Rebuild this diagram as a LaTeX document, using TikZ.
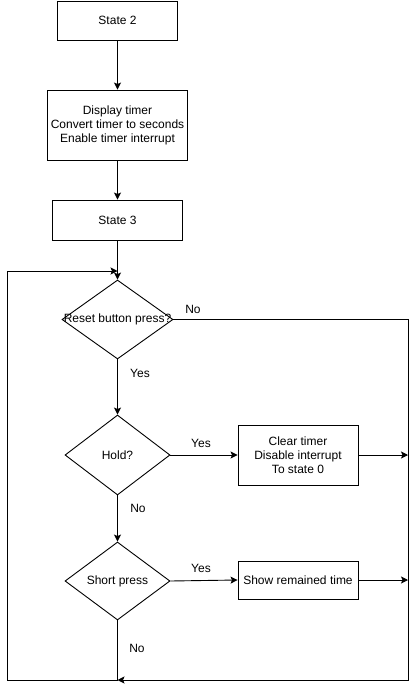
\documentclass[tikz,border=0pt]{standalone}
\usepackage{fontspec}
\setmainfont{Liberation Sans}
\usetikzlibrary{shapes.geometric,arrows.meta}
\begin{document}
\begin{tikzpicture}[x=1pt,y=-1pt,
  every node/.style={font=\fontsize{12}{14}\selectfont},
  box/.style={draw,line width=0.9pt,rectangle,inner sep=0pt,align=center},
  decision/.style={draw,line width=0.9pt,diamond,inner sep=0pt},
  flow/.style={line width=0.9pt,-{Stealth[length=7pt,width=7pt,inset=1.5pt]}},
  wire/.style={line width=0.9pt},
  tag/.style={inner sep=0pt}]
\useasboundingbox (0,0) rectangle (417,690);

% main column
\node[box,minimum width=120,minimum height=39] (s2) at (117.5,20.5) {State 2};
\node[box,minimum width=140,minimum height=70] (disp) at (117.5,125)
  {Display timer\\Convert timer to seconds\\Enable timer interrupt};
\node[box,minimum width=130,minimum height=40] (s3) at (117.5,220) {State 3};
\node[decision,minimum width=111,minimum height=79,
  label={[tag]center:Reset button press?}] (reset) at (117.5,319.5) {};
\node[decision,minimum width=105,minimum height=80,
  label={[tag]center:Hold?}] (hold) at (117.5,455) {};
\node[decision,minimum width=105,minimum height=78,
  label={[tag]center:Short press}] (short) at (117.5,581) {};

% side actions
\node[box,minimum width=120,minimum height=60] (clear) at (298,455)
  {Clear timer\\Disable interrupt\\To state 0};
\node[box,minimum width=120,minimum height=38] (show) at (298,580)
  {Show remained time};

% routing points of the loop
\coordinate (rtop) at (408,319.5);
\coordinate (rhold) at (408,455);
\coordinate (rshow) at (408,580);
\coordinate (rbot) at (408,680);
\coordinate (mbot) at (117.5,680);
\coordinate (lbot) at (7,680);
\coordinate (ltop) at (7,271);
\coordinate (entry) at (117.5,271);

% connectors
\draw[flow] (s2) -- (disp);
\draw[flow] (disp) -- (s3);
\draw[flow] (s3) -- (reset.north);
\draw[flow] (reset.south) -- (hold.north);
\draw[flow] (hold.south) -- (short.north);
\draw[flow] (hold.east) -- (clear.west);
\draw[flow] (short.east) -- (show.west);
\draw[flow] (clear.east) -- (rhold);
\draw[flow] (show.east) -- (rshow);
\draw[flow] (reset.east) -- (rtop) -- (rbot) -- (mbot);
\draw[wire] (short.south) -- (mbot);
\draw[flow] (mbot) -- (lbot) -- (ltop) -- (entry);

% branch labels
\node[tag] (noreset) at (193,309) {No};
\node[tag] (yesreset) at (140,373) {Yes};
\node[tag] (yeshold) at (201,443) {Yes};
\node[tag] (nohold) at (138,508) {No};
\node[tag] (yesshort) at (201,568) {Yes};
\node[tag] (noshort) at (137,648) {No};
\end{tikzpicture}
\end{document}
